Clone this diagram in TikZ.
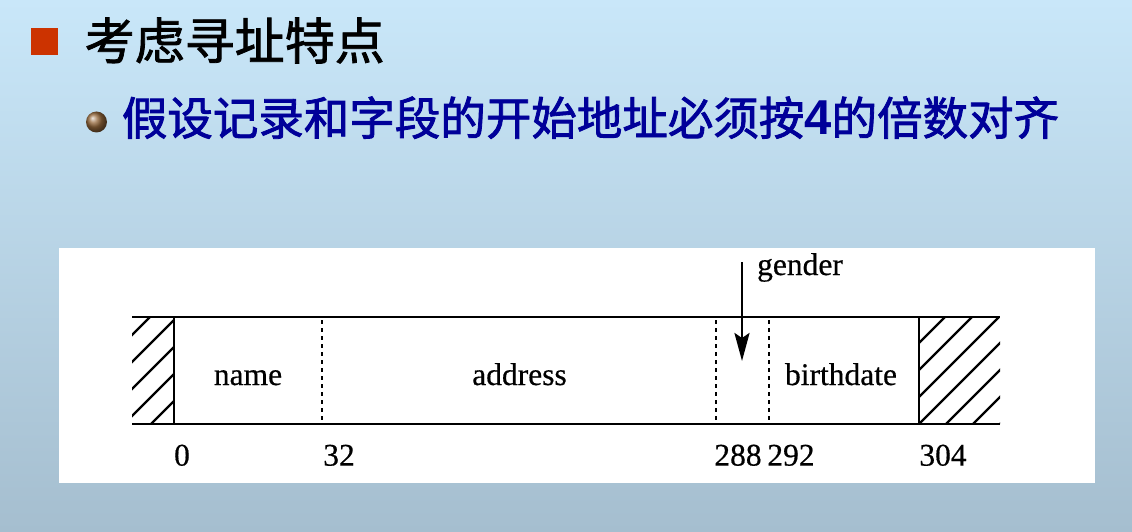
\documentclass[tikz,border=0pt]{standalone}
\usepackage{fontspec}
\setmainfont{Liberation Serif}
\newfontfamily\diagfont[FakeBold=0.5]{Liberation Serif}
\newfontfamily\cjktitle[FakeBold=1.6]{Noto Sans CJK SC}
\newfontfamily\cjksub[FakeBold=1.8]{Noto Sans CJK SC}
\newfontfamily\arialb{Liberation Sans}
\usetikzlibrary{arrows.meta}
\definecolor{bgtop}{RGB}{201,231,249}
\definecolor{bgbot}{RGB}{165,190,207}
\definecolor{sqred}{RGB}{204,51,0}
\definecolor{subblue}{RGB}{0,0,153}
\definecolor{bronze}{RGB}{150,105,60}
\begin{document}
\begin{tikzpicture}[x=1pt,y=-1pt,
 lbl/.style={font=\diagfont\fontsize{31.5}{34}\selectfont, inner sep=0pt, anchor=base},
 frame/.style={line width=2.6pt},
 sep/.style={line width=2.6pt, dash pattern=on 3.5pt off 4.5pt},
 hatch/.style={line width=2.3pt}]
\useasboundingbox (0,0) rectangle (1132,532);
\shade[top color=bgtop,bottom color=bgbot] (0,0) rectangle (1132,532);
% heading
\fill[sqred] (31,28) rectangle (58,55);
\node[anchor=base west, inner sep=0pt, font=\cjktitle\fontsize{50}{55}\selectfont] (title) at (84.5,59.5) {考虑寻址特点};
\shade[ball color=bronze] (96.5,122) circle (10.5);
\node[anchor=base west, inner sep=0pt, text=subblue, font=\cjksub\fontsize{45.5}{50}\selectfont] (sub) at (121.7,135) {假设记录和字段的开始地址必须按{\arialb\bfseries\fontsize{49}{50}\selectfont 4}的倍数对齐};
% panel
\fill[white] (59,248) rectangle (1095,483);
% hatching
\begin{scope}
\clip (132,317) rectangle (174,424);
\foreach \c in {440,467,...,602} \draw[hatch] ({\c-317},317) -- ({\c-424},424);
\end{scope}
\begin{scope}
\clip (919,317) rectangle (1000,424);
\foreach \c in {1235,1262,...,1430} \draw[hatch] ({\c-317},317) -- ({\c-424},424);
\end{scope}
% frame
\draw[frame] (132,317) -- (1000,317);
\draw[frame] (132,424) -- (1000,424);
\draw[frame] (174,317) -- (174,424);
\draw[frame] (919,317) -- (919,424);
\draw[sep] (322,320) -- (322,424);
\draw[sep] (716,320) -- (716,424);
\draw[sep] (769,320) -- (769,424);
% labels
\node[lbl] (name) at (248,385) {name};
\node[lbl] (address) at (519.5,385) {address};
\node[lbl] (birthdate) at (841,385) {birthdate};
\node[lbl] (gender) at (800,275) {gender};
\node[lbl] (n0) at (182,465.6) {0};
\node[lbl] (n32) at (339,465.6) {32};
\node[lbl] (n288) at (738,465.6) {288};
\node[lbl] (n292) at (791,465.6) {292};
\node[lbl] (n304) at (943,465.6) {304};
% gender arrow
\coordinate (gtop) at (742,262);
\coordinate (gtip) at (742,361);
\draw[line width=2.6pt,-{Stealth[length=28pt,width=15pt,inset=5pt]}] (gtop) -- (gtip);
\end{tikzpicture}
\end{document}
